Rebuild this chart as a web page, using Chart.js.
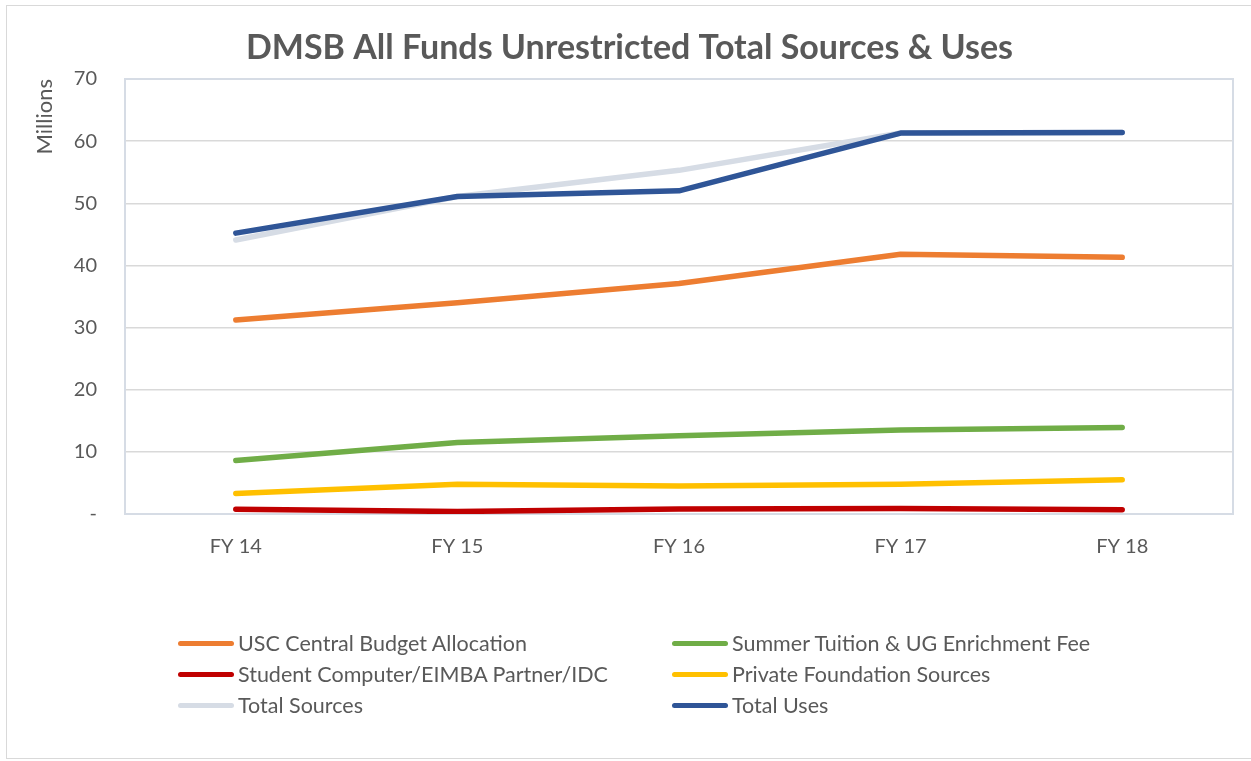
<!DOCTYPE html>
<html>
<head>
<meta charset="utf-8">
<script src="https://cdn.jsdelivr.net/npm/chart.js@4"></script>
<style>
    body { margin: 0; background: #ffffff; }
    #frame { position: absolute; left: 6px; top: 5px; width: 1260px; height: 754px; border: 1px solid #D9D9D9; box-sizing: border-box; }
    #wrap { position: absolute; left: 0; top: 0; width: 1251px; height: 761px; }
    #legend { position: absolute; left: 178px; top: 631px; display: grid; grid-template-columns: 494px 480px; row-gap: 7px; font-family: Lato, sans-serif; font-size: 21.5px; color: #595959; }
    .item { display: flex; align-items: center; height: 24px; }
    .swatch { width: 56px; height: 5px; border-radius: 3px; margin-right: 4px; }
</style>
</head>
<body>
<div id="frame"></div>
<div id="wrap"><canvas id="chart"></canvas></div>
<div id="legend"></div>
<script>
// Data (millions)
let years = ["FY 14", "FY 15", "FY 16", "FY 17", "FY 18"];
let yTickLabels = ["-", "10", "20", "30", "40", "50", "60", "70"];

let uscCentral = [31.2, 34.0, 37.1, 41.8, 41.3];
let summerTuition = [8.6, 11.5, 12.6, 13.5, 13.9];
let studentComputer = [0.75, 0.4, 0.8, 0.9, 0.7];
let privateFoundation = [3.3, 4.8, 4.5, 4.8, 5.5];
let totalSources = [44.1, 51.1, 55.3, 61.3, 61.4];
let totalUses = [45.2, 51.1, 52.0, 61.3, 61.4];

let seriesNames = ["USC Central Budget Allocation", "Summer Tuition & UG Enrichment Fee", "Student Computer/EIMBA Partner/IDC", "Private Foundation Sources", "Total Sources", "Total Uses"];
let seriesColors = ["#ED7D31", "#70AD47", "#C00000", "#FFC000", "#D6DCE5", "#2F5597"];
let seriesValues = [uscCentral, summerTuition, studentComputer, privateFoundation, totalSources, totalUses];
let drawOrder = [2, 3, 4, 5, 1, 0]; // lower = drawn on top

let textColor = "#595959";

// Plot area border (light blue-grey box round the chart area)
let plotBorder = {
    id: "plotBorder",
    beforeDatasetsDraw(chart) {
        let a = chart.chartArea;
        let ctx = chart.ctx;
        ctx.save();
        ctx.strokeStyle = "#D6DCE5";
        ctx.lineWidth = 2;
        ctx.strokeRect(a.left, a.top, a.right - a.left, a.bottom - a.top);
        ctx.restore();
    }
};

let datasets = seriesNames.map((name, i) => ({
    label: name,
    data: seriesValues[i],
    borderColor: seriesColors[i],
    backgroundColor: seriesColors[i],
    borderWidth: 5.5,
    borderCapStyle: "round",
    borderJoinStyle: "round",
    pointRadius: 0,
    tension: 0,
    order: drawOrder[i]
}));

let ctx = document.getElementById("chart").getContext("2d");
let chart = new Chart(ctx, {
    type: "line",
    data: { labels: years, datasets: datasets },
    plugins: [plotBorder],
    options: {
        responsive: true,
        maintainAspectRatio: false,
        animation: false,
        layout: { padding: { left: 26, right: 18, top: 0, bottom: 187 } },
        plugins: {
            legend: { display: false },
            tooltip: { enabled: false },
            title: {
                display: true,
                text: "DMSB All Funds Unrestricted Total Sources & Uses",
                color: textColor,
                font: { family: "Lato", size: 34, weight: "bold" },
                padding: { top: 27.6, bottom: 10.6 }
            }
        },
        scales: {
            x: {
                offset: true,
                grid: { display: false, drawTicks: false },
                border: { display: false },
                ticks: { color: textColor, font: { family: "Lato", size: 20 }, padding: 21 },
                afterFit: (scale) => { scale.height = 60; }
            },
            y: {
                min: 0,
                max: 70,
                grid: { color: "#D9D9D9", lineWidth: 1.5, drawTicks: false },
                border: { display: false },
                ticks: {
                    stepSize: 10,
                    color: textColor,
                    font: { family: "Lato", size: 20 },
                    padding: 28,
                    callback: (value, index) => yTickLabels[index]
                },
                title: {
                    display: true,
                    text: "Millions",
                    align: "end",
                    color: textColor,
                    font: { family: "Lato", size: 22 },
                    padding: { top: 6, bottom: 0 }
                },
                afterFit: (scale) => { scale.width = 99; }
            }
        }
    }
});

// HTML legend in two columns, built from the datasets
let legendEl = document.getElementById("legend");
chart.data.datasets.forEach(ds => {
    let item = document.createElement("div");
    item.className = "item";
    item.innerHTML = `<span class="swatch" style="background:${ds.borderColor}"></span><span>${ds.label}</span>`;
    legendEl.appendChild(item);
});
</script>
</body>
</html>
